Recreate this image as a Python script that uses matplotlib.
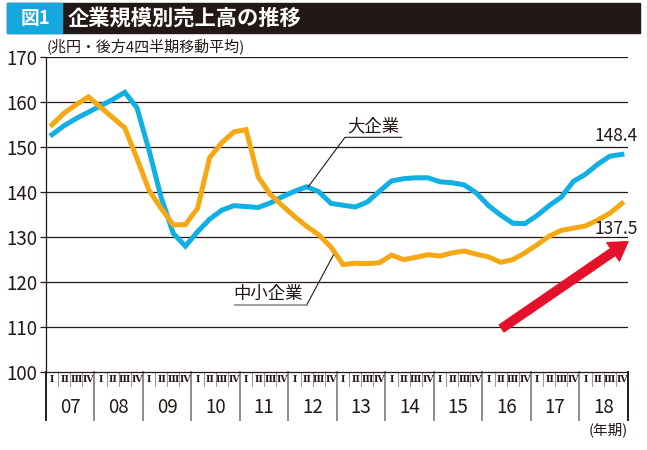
import matplotlib
matplotlib.use("Agg")
import matplotlib.pyplot as plt
from matplotlib.patches import Rectangle

plt.rcParams['font.family'] = ['Noto Sans CJK JP', 'DejaVu Sans']

# Data: quarterly sales, trailing 4-quarter average (trillion yen), 2007 Q1 - 2018 Q4
years = ["07", "08", "09", "10", "11", "12", "13", "14", "15", "16", "17", "18"]
quarters = ["Ⅰ", "Ⅱ", "Ⅲ", "Ⅳ"]

large = [152.8, 154.8, 156.4, 157.8, 159.2, 160.6, 162.2, 158.8,
         149.3, 138.8, 130.8, 128.0, 131.2, 134.0, 136.0, 137.0,
         136.8, 136.6, 137.6, 139.0, 140.2, 141.2, 140.1, 137.5,
         137.1, 136.7, 137.8, 140.2, 142.5, 143.0, 143.2, 143.2,
         142.3, 142.1, 141.6, 139.8, 137.0, 134.9, 133.1, 133.0,
         134.8, 137.0, 138.9, 142.4, 144.0, 146.2, 148.0, 148.4]

small = [155.0, 157.6, 159.5, 161.2, 158.9, 156.6, 154.3, 147.5,
         140.4, 136.4, 132.7, 132.8, 136.4, 147.7, 151.0, 153.4,
         153.9, 143.4, 139.5, 137.0, 134.6, 132.4, 130.5, 127.8,
         123.9, 124.2, 124.1, 124.3, 126.0, 125.0, 125.5, 126.1,
         125.8, 126.5, 126.9, 126.2, 125.6, 124.4, 125.0, 126.5,
         128.3, 130.2, 131.5, 132.0, 132.5, 133.8, 135.3, 137.5]

yticks = [100, 110, 120, 130, 140, 150, 160, 170]

BLUE = "#10afe4"
ORANGE = "#f6a813"
RED = "#e5102a"
DARK = "#231815"

n = len(large)
xs = [i + 0.5 for i in range(n)]

fig = plt.figure(figsize=(6.47, 4.5), dpi=100)
ax = fig.add_axes([0.0711, 0.1733, 0.8995, 0.6994])

# title bar
fig.patches.append(Rectangle((7 / 647, 1 - 33 / 450), 633 / 647, 30 / 450,
                             transform=fig.transFigure, color=DARK, zorder=0))
fig.patches.append(Rectangle((7 / 647, 1 - 33 / 450), 55 / 647, 30 / 450,
                             transform=fig.transFigure, color="#14a8df", zorder=1))
fig.text(35 / 647, 1 - 18 / 450, "図1", color="white", fontsize=13.5, fontweight="bold",
         ha="center", va="center")
fig.text(68 / 647, 1 - 18 / 450, "企業規模別売上高の推移", color="white", fontsize=15.3,
         fontweight="bold", ha="left", va="center")
fig.text(47 / 647, 1 - 46 / 450, "(兆円・後方4四半期移動平均)", fontsize=10.8,
         color=DARK, ha="left", va="center")

# grid
for v in yticks[1:]:
    ax.axhline(v, color=DARK, lw=0.9, zorder=1)

ax.plot(xs, large, color=BLUE, lw=3.6, solid_joinstyle="miter", zorder=3)
ax.plot(xs, small, color=ORANGE, lw=3.6, solid_joinstyle="miter", zorder=3)

ax.set_xlim(0, n)
ax.set_ylim(100, 170)
ax.set_yticks(yticks)
ax.tick_params(axis="y", labelsize=13.5, length=4, width=0.9, colors=DARK, pad=2)
ax.set_xticks([])
for s in ["top", "right"]:
    ax.spines[s].set_visible(False)
ax.spines["left"].set_color(DARK)
ax.spines["bottom"].set_color(DARK)
ax.spines["left"].set_linewidth(0.9)
ax.spines["bottom"].set_linewidth(0.9)

# quarter / year band under the axis
tr = ax.get_xaxis_transform()
for k in range(n + 1):
    if k % 4 == 0:
        col = DARK if k in (0, n) else "#8c8c8c"
        ax.plot([k, k], [0, -0.1525], transform=tr, color=col, lw=1.4, clip_on=False)
    else:
        ax.plot([k, k], [0, -0.045], transform=tr, color="#9a9a9a", lw=0.8, clip_on=False)
for i in range(n):
    ax.text(i + 0.5, -0.023, quarters[i % 4], transform=tr, fontsize=7.5,
            family=["DejaVu Serif", "DejaVu Sans"], fontstretch="condensed",
            fontweight="bold", ha="center", va="center", color=DARK)
for j, yl in enumerate(years):
    ax.text(j * 4 + 2, -0.114, yl, transform=tr, fontsize=13.5,
            ha="center", va="center", color=DARK)
ax.text(n, -0.185, "(年期)", transform=tr, fontsize=10.5, ha="right", va="center",
        color=DARK)

# labels and leaders
ax.plot([21.63, 24.66, 29.34], [141.2, 152.2, 152.2], color=DARK, lw=0.8, zorder=4)
ax.text(26.97, 152.7, "大企業", fontsize=12.5, ha="center", va="bottom", color=DARK)
ax.plot([23.7, 21.5], [126.0, 114.9], color=DARK, lw=0.8, zorder=4)
ax.plot([21.5, 15.6], [114.9, 114.9], color="#8c8c8c", lw=1.2, zorder=4)
ax.text(18.3, 115.4, "中小企業", fontsize=12.5, ha="center", va="bottom", color=DARK)

ax.text(47.0, 152.4, f"{large[-1]:.1f}", fontsize=12.5, ha="center", va="center",
        color=DARK)
ax.text(47.0, 131.8, f"{small[-1]:.1f}", fontsize=12.5, ha="center", va="center",
        color=DARK, zorder=6)

# rising arrow
ax.annotate("", xy=(48.0, 129.0), xytext=(37.58, 109.7),
            arrowprops=dict(arrowstyle="simple,head_width=1.6,head_length=1.3,tail_width=0.6",
                            color=RED, shrinkA=0, shrinkB=0),
            annotation_clip=False, zorder=5)

fig.savefig("out.png", dpi=100)
